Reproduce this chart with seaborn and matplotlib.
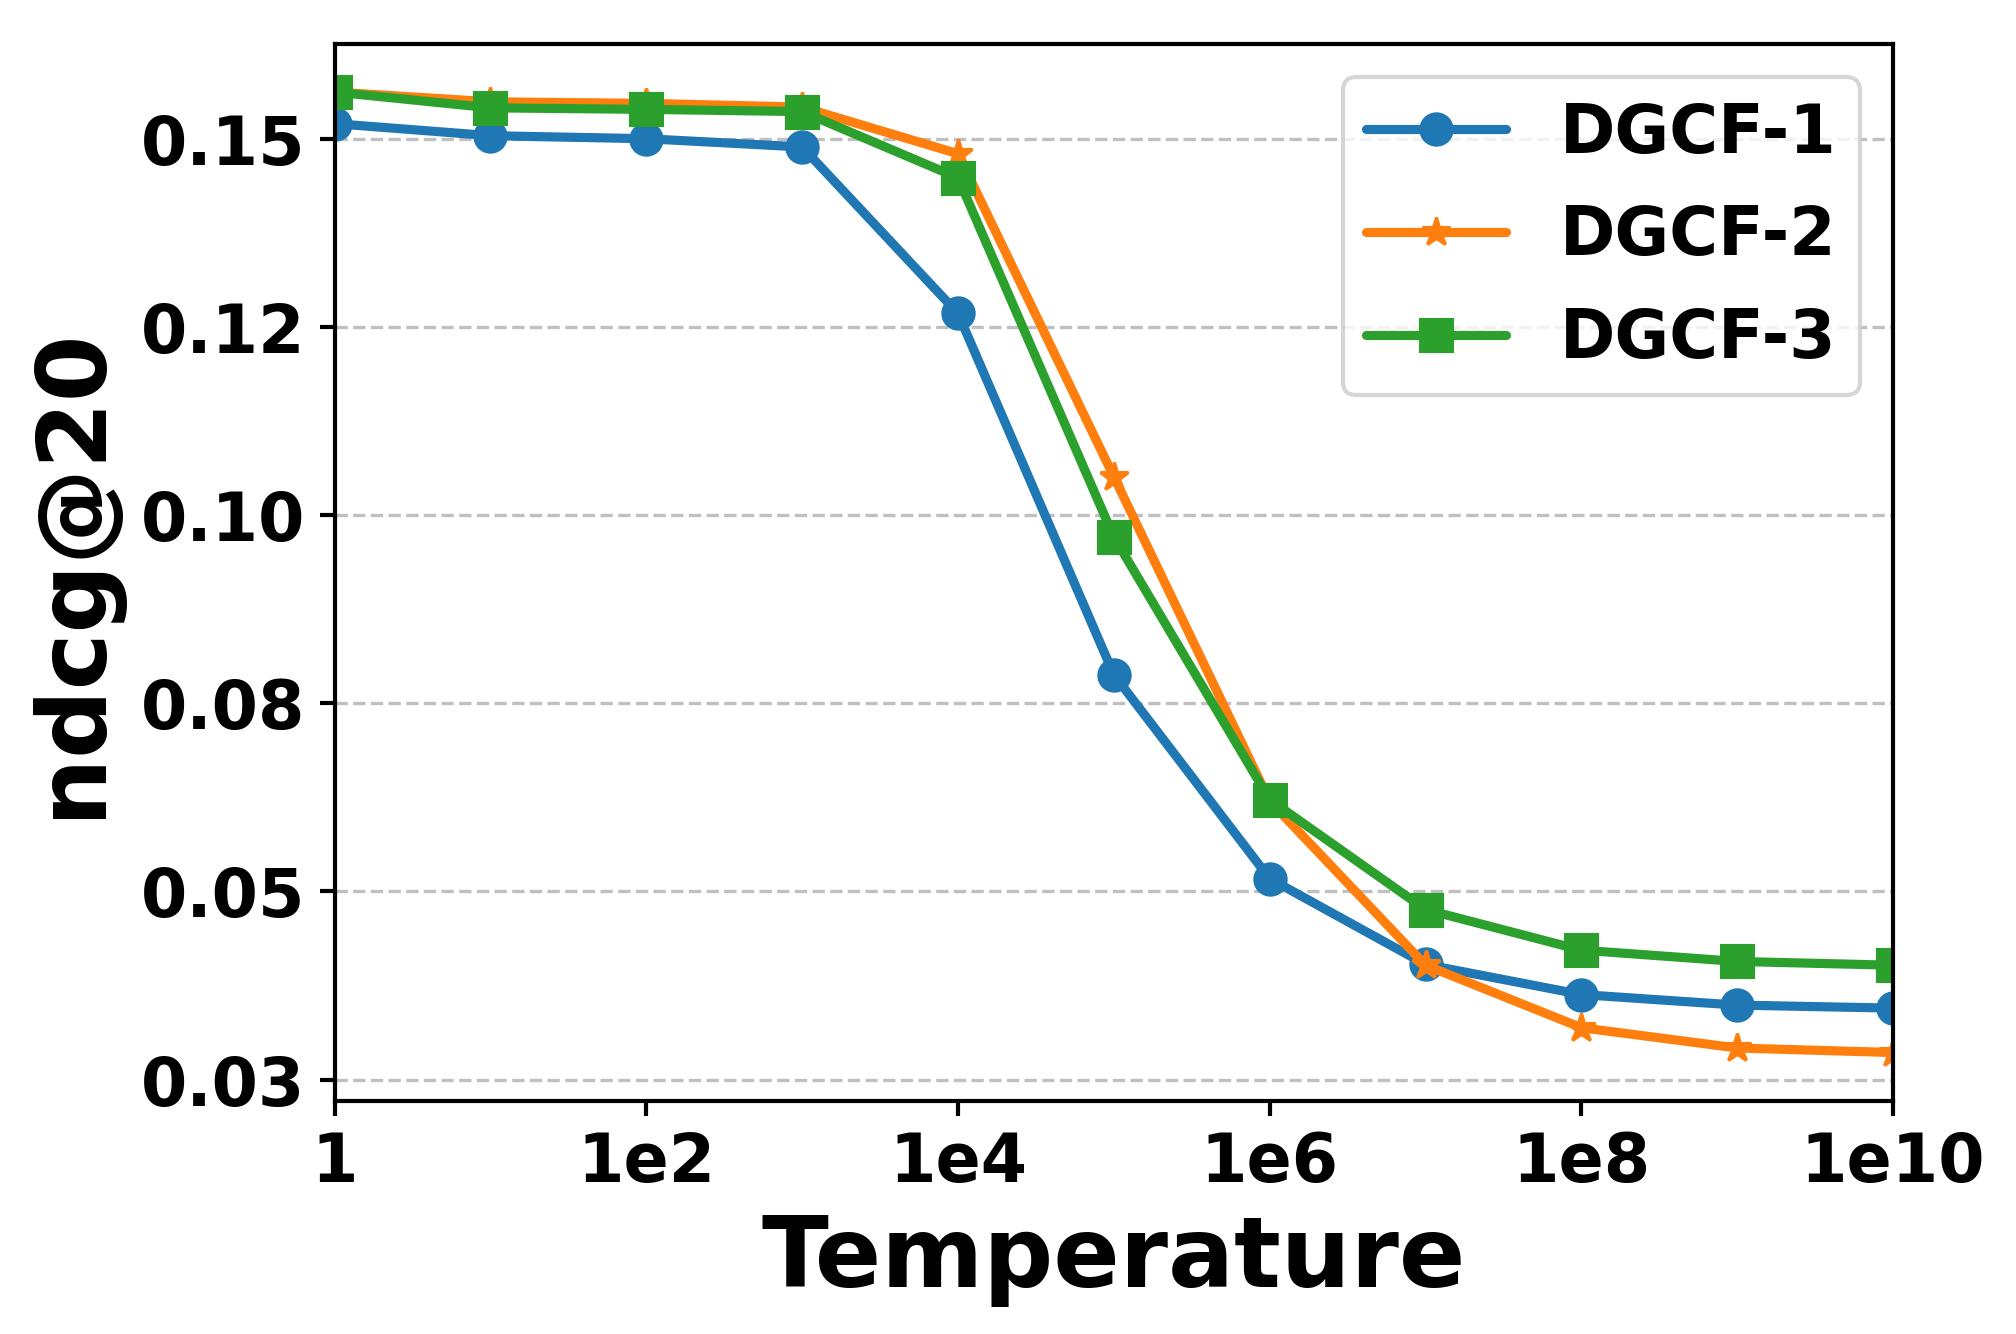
import matplotlib
matplotlib.use("Agg")
import matplotlib.pyplot as plt
import matplotlib.ticker as mticker
import pandas as pd
import seaborn as sns

# values
temperature = [1, 1e1, 1e2, 1e3, 1e4, 1e5, 1e6, 1e7, 1e8, 1e9, 1e10]
dgcf_1 = [0.1520, 0.1504, 0.1500, 0.1489, 0.1268, 0.0788, 0.0517, 0.0403, 0.0363, 0.0349, 0.0345]
dgcf_2 = [0.1562, 0.1549, 0.1547, 0.1542, 0.1480, 0.1051, 0.0620, 0.0402, 0.0319, 0.0292, 0.0286]
dgcf_3 = [0.1562, 0.1541, 0.1539, 0.1536, 0.1448, 0.0971, 0.0622, 0.0476, 0.0422, 0.0407, 0.0402]
x_ticks = [1, 1e2, 1e4, 1e6, 1e8, 1e10]
x_tick_labels = ["1", "1e2", "1e4", "1e6", "1e8", "1e10"]

series = [
    ("DGCF-1", dgcf_1, "#1f77b4", "o", 7.5),
    ("DGCF-2", dgcf_2, "#ff7f0e", "*", 7),
    ("DGCF-3", dgcf_3, "#2ca02c", "s", 7.5),
]

sns.set_style("ticks")
plt.rcParams["font.family"] = ["DejaVu Sans"]
plt.rcParams["font.weight"] = "bold"
plt.rcParams["text.color"] = "black"
plt.rcParams["axes.labelcolor"] = "black"
plt.rcParams["xtick.color"] = "black"
plt.rcParams["ytick.color"] = "black"

fig, ax = plt.subplots(figsize=(6.72, 4.4467), dpi=300)
fig.subplots_adjust(left=0.166, right=0.939, top=0.967, bottom=0.175)

for name, vals, color, marker, ms in series:
    df = pd.DataFrame({"Temperature": temperature, "ndcg": vals})
    sns.lineplot(data=df, x="Temperature", y="ndcg", ax=ax, color=color,
                 marker=marker, markersize=ms, markeredgecolor=color,
                 linewidth=2.2, label=name)

ax.set_xscale("log")
ax.set_xlim(1, 1e10)
ax.set_xticks(x_ticks)
ax.set_xticklabels(x_tick_labels)
ax.xaxis.set_minor_locator(mticker.NullLocator())

ax.yaxis.set_major_locator(mticker.MultipleLocator(0.025))
ax.yaxis.set_major_formatter(mticker.FormatStrFormatter("%.2f"))
ax.margins(y=0.05)

ax.yaxis.grid(True, linestyle="--", color="#c0c0c0", linewidth=0.8)
ax.xaxis.grid(False)
for sp in ax.spines.values():
    sp.set_visible(True)
    sp.set_color("black")
    sp.set_linewidth(1.0)

ax.tick_params(axis="both", labelsize=16, length=3.5, width=1.0,
               color="black", labelcolor="black")
for lbl in ax.get_xticklabels() + ax.get_yticklabels():
    lbl.set_fontweight("bold")

ax.set_xlabel("Temperature", fontsize=23.5, fontweight="bold", labelpad=4, color="black")
ax.set_ylabel("ndcg@20", fontsize=23, fontweight="bold", labelpad=5, color="black")

leg = ax.legend(loc="upper right", fontsize=16, labelspacing=0.55,
                handlelength=2.1, handletextpad=0.8, borderpad=0.35,
                frameon=True, fancybox=True)
for t in leg.get_texts():
    t.set_fontweight("bold")
    t.set_color("black")

fig.savefig("out.png", dpi=300)
